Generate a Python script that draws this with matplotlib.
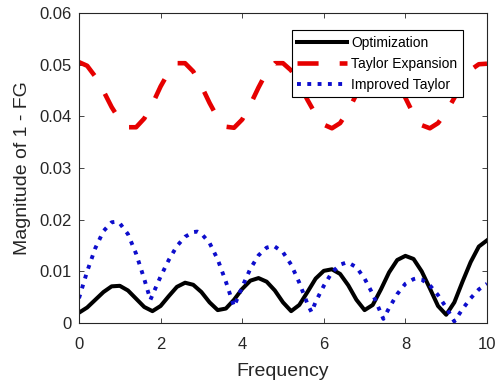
import numpy as np
import matplotlib
matplotlib.use("Agg")
import matplotlib.pyplot as plt

plt.rcParams['font.family'] = ['Liberation Sans', 'DejaVu Sans']

# values
freq = np.linspace(0, 10, 51)

optimization = [0.0020, 0.0030, 0.0045, 0.0060, 0.0071, 0.0072, 0.0063, 0.0047, 0.0031, 0.0023,
                0.0033, 0.0052, 0.0070, 0.0078, 0.0074, 0.0060, 0.0040, 0.0025, 0.0028, 0.0045,
                0.0066, 0.0082, 0.0087, 0.0080, 0.0063, 0.0040, 0.0023, 0.0035, 0.0060, 0.0086,
                0.0101, 0.0104, 0.0095, 0.0073, 0.0045, 0.0025, 0.0035, 0.0065, 0.0098, 0.0122,
                0.0130, 0.0124, 0.0100, 0.0067, 0.0033, 0.0016, 0.0040, 0.0080, 0.0118, 0.0148,
                0.0160]

taylor = [0.0505, 0.0498, 0.0477, 0.0449, 0.0418, 0.0393, 0.0379, 0.0379, 0.0396, 0.0424,
          0.0458, 0.0486, 0.0503, 0.0503, 0.0487, 0.0459, 0.0426, 0.0397, 0.0380, 0.0378,
          0.0394, 0.0423, 0.0456, 0.0486, 0.0503, 0.0503, 0.0489, 0.0463, 0.0432, 0.0404,
          0.0384, 0.0377, 0.0387, 0.0411, 0.0443, 0.0475, 0.0498, 0.0505, 0.0494, 0.0469,
          0.0436, 0.0404, 0.0383, 0.0377, 0.0387, 0.0408, 0.0436, 0.0466, 0.0490, 0.0501,
          0.0502]

improved_freq = [0, 0.2, 0.4, 0.6, 0.8, 0.9, 1.0, 1.2, 1.4, 1.6, 1.75, 1.8, 2.0, 2.2, 2.4,
                 2.6, 2.8, 2.9, 3.0, 3.2, 3.4, 3.6, 3.8, 4.0, 4.2, 4.4, 4.6, 4.75, 4.8, 5.0,
                 5.2, 5.4, 5.6, 5.7, 5.8, 6.0, 6.2, 6.4, 6.55, 6.6, 6.8, 7.0, 7.2, 7.4, 7.46,
                 7.6, 7.8, 8.0, 8.2, 8.25, 8.4, 8.6, 8.8, 9.0, 9.2, 9.4, 9.6, 9.8, 10.0]
improved = [0.0048, 0.0100, 0.0145, 0.0178, 0.0195, 0.0196, 0.0193, 0.0172, 0.0134, 0.0085,
            0.0045, 0.0054, 0.0090, 0.0122, 0.0149, 0.0167, 0.0176, 0.0177, 0.0173, 0.0155,
            0.0123, 0.0080, 0.0032, 0.0070, 0.0105, 0.0131, 0.0146, 0.0149, 0.0148, 0.0137,
            0.0113, 0.0078, 0.0037, 0.0021, 0.0041, 0.0072, 0.0098, 0.0113, 0.0117, 0.0117,
            0.0108, 0.0086, 0.0056, 0.0019, 0.0008, 0.0029, 0.0056, 0.0076, 0.0085, 0.0086,
            0.0084, 0.0073, 0.0054, 0.0030, 0.0003, 0.0027, 0.0048, 0.0065, 0.0076]

xticks = [0, 2, 4, 6, 8, 10]
yticks = [0, 0.01, 0.02, 0.03, 0.04, 0.05, 0.06]
ytick_labels = ['0', '0.01', '0.02', '0.03', '0.04', '0.05', '0.06']

fig = plt.figure(figsize=(4.95, 3.85), dpi=100)
ax = fig.add_axes([0.1596, 0.161, 0.8242, 0.805])

ax.plot(freq, optimization, color='black', lw=2.9, label='Optimization')
ax.plot(freq, taylor, color='#e60000', lw=3.3, dashes=(4.6, 4.6), label='Taylor Expansion')
ax.plot(improved_freq, improved, color='#0d0dcc', lw=2.8, ls=':', label='Improved Taylor')

ax.set_xlim(0, 10)
ax.set_ylim(0, 0.06)
ax.set_xticks(xticks)
ax.set_yticks(yticks)
ax.set_yticklabels(ytick_labels)

gray = '#262626'
for s in ax.spines.values():
    s.set_color(gray)
    s.set_linewidth(0.8)
ax.tick_params(direction='in', top=True, right=True, length=3.5, width=0.6,
               colors=gray, labelsize=12)
ax.tick_params(axis='x', pad=10)
ax.tick_params(axis='y', pad=5)

ax.set_xlabel('Frequency', fontsize=14, color=gray, labelpad=8)
ax.set_ylabel('Magnitude of 1 - FG', fontsize=14, color=gray, labelpad=6)

leg = ax.legend(loc='upper right', bbox_to_anchor=(0.941, 0.945), fontsize=10,
                handlelength=3.6, handletextpad=0.3, labelspacing=0.5,
                borderpad=0.4, borderaxespad=0, fancybox=False, framealpha=1)
leg.get_frame().set_edgecolor('black')
leg.get_frame().set_linewidth(0.8)

fig.savefig('out.png', dpi=100)
